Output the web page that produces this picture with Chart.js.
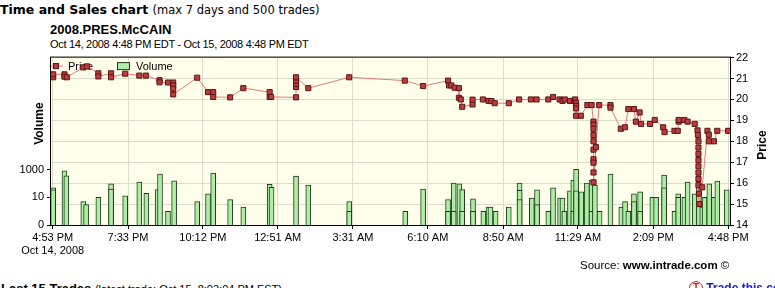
<!DOCTYPE html>
<html>
<head>
<meta charset="utf-8">
<script src="https://cdn.jsdelivr.net/npm/chart.js@4.4.0/dist/chart.umd.min.js"></script>
<style>
  body { margin: 0; width: 775px; height: 288px; overflow: hidden; position: relative; background: #fff; color: #000; font-family: 'Liberation Sans', Arial, sans-serif; }
  .abs { position: absolute; white-space: nowrap; }
  .tIcon { display: inline-block; width: 12px; height: 12px; border: 1.5px solid #d42020; border-radius: 50%; color: #d42020; font: bold 10px/12px 'Liberation Sans'; text-align: center; vertical-align: top; }
</style>
</head>
<body>
<div class="abs" style="left:0;top:2px;font:bold 12.5px/15px 'DejaVu Sans'">Time and Sales chart <span style="font:11.5px 'DejaVu Sans'">(max 7 days and 500 trades)</span></div>
<div class="abs" style="left:50px;top:22px;font:bold 13px/15px 'Liberation Sans'">2008.PRES.McCAIN</div>
<div class="abs" style="left:50px;top:38px;font:11px/13px 'Liberation Sans';letter-spacing:-0.3px">Oct 14, 2008 4:48 PM EDT - Oct 15, 2008 4:48 PM EDT</div>
<canvas id="myChart" width="775" height="214" style="position:absolute;left:0;top:48px"></canvas>
<div class="abs" style="left:580px;top:258px;font:11.5px/14px 'Liberation Sans'">Source: <b>www.intrade.com</b> &copy;</div>
<div class="abs" style="left:1px;top:281px;font:bold 13px/15px 'Liberation Sans'">Last 15 Trades <span style="font:11px 'Liberation Sans'">(latest trade: Oct 15, 8:03:04 PM EST)</span></div>
<div class="abs" style="left:689px;top:281px;font:bold 12px/15px 'Liberation Sans';color:#1a1acc"><span class="tIcon">T</span> Trade this contract</div>
<script>
// time axis: minutes after Oct 14, 2008 4:48 PM EDT
const tickMinutes = [5, 165, 324, 483, 643, 802, 962, 1121, 1281, 1440];
const tickLabels = ['4:53 PM', '7:33 PM', '10:12 PM', '12:51 AM', '3:31 AM', '6:10 AM', '8:50 AM', '11:29 AM', '2:09 PM', '4:48 PM'];
const startDateLabel = 'Oct 14, 2008';

// volume axis is logarithmic, its bottom value is labelled "0"
const volumeTicks = [0.1, 10, 1000];
const volumeTickLabels = ['0', '10', '1000'];

const priceTimes = [6, 6, 30, 30, 35, 70, 78, 102, 102, 129, 129, 159, 189, 203, 232, 232, 250, 261, 261, 261, 261,
    312, 335, 346, 346, 382, 410, 466, 466, 469, 522, 522, 522, 522, 522, 548, 635, 753, 792, 845, 847, 852, 859,
    868, 868, 872, 875, 897, 897, 919, 931, 937, 944, 974, 996, 1021, 1033, 1058, 1068, 1082, 1088, 1093, 1104,
    1113, 1115, 1117, 1117, 1117, 1117, 1127, 1141, 1150, 1154, 1154, 1154, 1154, 1154, 1154, 1154, 1154, 1154,
    1154, 1159, 1166, 1190, 1190, 1212, 1221, 1228, 1240, 1244, 1252, 1255, 1274, 1284, 1302, 1305, 1326, 1333,
    1335, 1335, 1347, 1354, 1369, 1375, 1376, 1377, 1377, 1377, 1377, 1377, 1377, 1377, 1377, 1378, 1379, 1385,
    1396, 1399, 1399, 1410, 1417, 1440];
const prices = [21.06, 21.2, 21.2, 21.09, 21.06, 21.53, 21.58, 21.25, 21.1, 21.25, 21.06, 21.23, 21.14, 21.14, 20.92,
    20.82, 20.81, 20.81, 20.67, 20.51, 20.24, 21.04, 20.35, 20.35, 20.12, 20.1, 20.54, 20.35, 20.12, 20.12, 20.1,
    20.59, 20.74, 20.9, 21.06, 20.54, 21.06, 20.9, 20.64, 20.9, 20.67, 20.67, 20.56, 20.54, 20.08, 20.0, 19.65,
    19.76, 19.99, 20.0, 19.93, 19.92, 19.82, 19.82, 20.0, 20.0, 20.0, 20.0, 20.12, 20.0, 19.93, 20.0, 19.93, 19.93,
    20.0, 19.84, 19.69, 19.57, 19.22, 19.22, 19.73, 19.73, 18.94, 18.79, 18.6, 18.3, 18.0, 17.6, 17.14, 16.98,
    16.51, 16.04, 17.72, 19.73, 19.73, 19.61, 18.6, 18.67, 19.54, 19.54, 18.94, 19.38, 18.83, 18.83, 19.02, 18.67,
    18.44, 18.5, 18.5, 18.94, 19.02, 19.02, 18.94, 18.83, 18.52, 18.3, 18.0, 17.7, 17.4, 17.1, 16.8, 16.5, 16.2,
    15.9, 15.5, 15.0, 15.8, 18.5, 18.31, 18.0, 18.0, 18.5, 18.5];

const volumeTimes = [6, 6, 30, 34, 70, 76, 102, 129, 129, 159, 189, 204, 228, 233, 250, 263, 312, 335, 346, 382, 410,
    466, 470, 522, 548, 635, 635, 754, 792, 845, 845, 857, 857, 869, 875, 875, 898, 898, 920, 931, 935, 946, 974,
    997, 997, 997, 1023, 1034, 1034, 1058, 1068, 1083, 1088, 1092, 1104, 1111, 1111, 1117, 1117, 1128, 1140, 1150,
    1150, 1157, 1167, 1190, 1213, 1221, 1228, 1240, 1240, 1253, 1253, 1279, 1287, 1304, 1304, 1326, 1334, 1334,
    1347, 1354, 1369, 1378, 1385, 1390, 1400, 1410, 1417, 1437];
const volumes = [50, 35, 850, 370, 5, 3, 10, 95, 40, 13, 130, 20, 37, 490, 1, 160, 5, 18, 580, 7, 2,
    90, 55, 350, 80, 5, 1, 1, 40, 7, 1, 110, 1, 95, 37, 1, 8, 1, 1, 2, 2, 1, 2,
    110, 33, 7, 9, 35, 3, 1, 50, 9, 9, 1, 30, 185, 1, 1100, 30, 25, 110, 185,
    1, 80, 1, 490, 2, 5, 1, 18, 5, 25, 1, 10, 10, 420, 50, 1, 18, 10,
    10, 130, 18, 110, 2, 10, 95, 10, 155, 35];

Chart.defaults.font.family = "'Liberation Sans', Arial, sans-serif";
Chart.defaults.font.size = 11;
Chart.defaults.color = '#000';

const gridColor = '#dcdccc';

// plot background and frame
const chartAreaFrame = {
    id: 'chartAreaFrame',
    beforeDraw(chart, args, options) {
        const {ctx, chartArea: {left, top, width, height}} = chart;
        ctx.save();
        ctx.fillStyle = options.background;
        ctx.fillRect(left, top, width, height);
        ctx.restore();
    },
    afterDraw(chart, args, options) {
        const {ctx, chartArea: {left, top, width, height}} = chart;
        ctx.save();
        ctx.strokeStyle = options.borderColor;
        ctx.lineWidth = 1;
        ctx.strokeRect(left - 0.5, top - 0.5, width + 1, height + 1);
        ctx.restore();
    }
};

// legend sits inside the plot, under the price markers
const innerLegend = {
    id: 'innerLegend',
    beforeDatasetsDraw(chart) {
        const {ctx, chartArea: {left, top}} = chart;
        const [price, volume] = chart.data.datasets;
        const y = top + 8.5;
        ctx.save();
        ctx.lineWidth = 1;
        ctx.strokeStyle = price.borderColor;
        ctx.beginPath();
        ctx.moveTo(left - 2, y);
        ctx.lineTo(left + 12, y);
        ctx.stroke();
        ctx.fillStyle = price.pointBackgroundColor;
        ctx.fillRect(left + 2, y - 3, 6, 6);
        ctx.strokeStyle = price.pointBorderColor;
        ctx.strokeRect(left + 2.5, y - 2.5, 5, 5);
        ctx.fillStyle = volume.backgroundColor;
        ctx.fillRect(left + 66, y - 3.5, 13, 7);
        ctx.strokeStyle = volume.borderColor;
        ctx.strokeRect(left + 66.5, y - 3.5, 12, 7);
        ctx.fillStyle = '#000';
        ctx.font = "11px 'Liberation Sans'";
        ctx.textBaseline = 'middle';
        ctx.fillText(price.label, left + 17, y + 0.5);
        ctx.fillText(volume.label, left + 85, y + 0.5);
        ctx.restore();
    }
};

// axis titles read bottom to top on both sides
const sideTitles = {
    id: 'sideTitles',
    afterDraw(chart) {
        const {ctx, chartArea: {top}} = chart;
        const draw = (text, x, y) => {
            ctx.save();
            ctx.translate(x, y);
            ctx.rotate(-Math.PI / 2);
            ctx.font = "bold 12px 'Liberation Sans'";
            ctx.fillStyle = '#000';
            ctx.textAlign = 'center';
            ctx.textBaseline = 'middle';
            ctx.fillText(text, 0, 0);
            ctx.restore();
        };
        draw('Volume', 39.5, top + 66);
        draw('Price', 762.5, top + 87.5);
    }
};

const ctx = document.getElementById('myChart').getContext('2d');

new Chart(ctx, {
    type: 'bar',
    data: {
        datasets: [{
            type: 'line',
            label: 'Price',
            data: priceTimes.map((t, i) => ({x: t, y: prices[i]})),
            yAxisID: 'yPrice',
            order: 0,
            borderColor: '#e87a7a',
            borderWidth: 1,
            tension: 0,
            pointStyle: 'rect',
            pointRadius: 3.6,
            pointBackgroundColor: '#bb3c3c',
            pointBorderColor: '#5a1414',
            pointBorderWidth: 1
        }, {
            type: 'bar',
            label: 'Volume',
            data: volumeTimes.map((t, i) => ({x: t, y: volumes[i]})),
            yAxisID: 'yVol',
            order: 1,
            backgroundColor: '#aeeea4',
            borderColor: '#1e3c1e',
            borderWidth: 1,
            barThickness: 5
        }]
    },
    options: {
        responsive: false,
        animation: false,
        layout: {padding: {top: 7, left: 0, right: 0, bottom: 0}},
        plugins: {
            legend: {display: false},
            tooltip: {enabled: false},
            chartAreaFrame: {background: '#ffffec', borderColor: '#000'}
        },
        scales: {
            x: {
                type: 'linear',
                position: 'bottom',
                min: 1.4,
                max: 1444,
                offset: false,
                afterBuildTicks: s => { s.ticks = tickMinutes.map(v => ({value: v})); },
                afterFit: s => { s.height = 37; },
                grid: {color: gridColor, offset: false, tickLength: 4, tickColor: '#000'},
                border: {display: false},
                ticks: {
                    autoSkip: false,
                    maxRotation: 0,
                    padding: 2,
                    callback: (v, i) => i === 0 ? [tickLabels[0], startDateLabel] : tickLabels[i]
                }
            },
            yVol: {
                type: 'logarithmic',
                position: 'left',
                min: 0.1,
                max: 1.39e11,
                afterBuildTicks: s => { s.ticks = volumeTicks.map(v => ({value: v})); },
                afterFit: s => { s.width = 51; },
                grid: {drawOnChartArea: false, tickLength: 4, tickColor: '#000'},
                border: {display: false},
                ticks: {padding: 3, callback: (v, i) => volumeTickLabels[i]}
            },
            yPrice: {
                type: 'linear',
                position: 'right',
                min: 14,
                max: 22,
                afterFit: s => { s.width = 45; },
                grid: {color: gridColor, tickLength: 4, tickColor: '#000'},
                border: {display: false},
                ticks: {stepSize: 1, padding: 2}
            }
        }
    },
    plugins: [chartAreaFrame, innerLegend, sideTitles]
});
</script>
</body>
</html>
